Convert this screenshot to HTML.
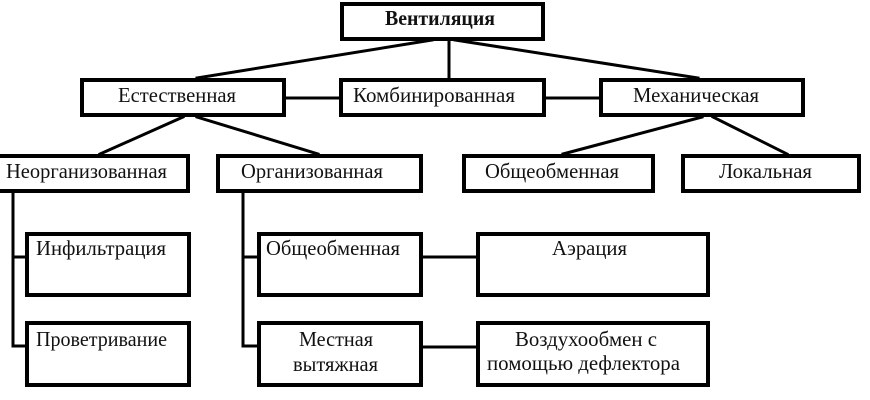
<!DOCTYPE html>
<html>
<head>
<meta charset="utf-8">
<style>
  html,body{margin:0;padding:0;background:#fff;}
  svg{display:block;}
  text{font-family:"Liberation Serif","DejaVu Serif",serif;font-size:21px;fill:#111;}
</style>
</head>
<body>
<svg width="870" height="400" viewBox="0 0 870 400" xmlns="http://www.w3.org/2000/svg">
  <g stroke="#000" stroke-width="3" fill="none" stroke-linecap="square">
    <line x1="432" y1="40" x2="197" y2="78"/>
    <line x1="449" y1="40" x2="449" y2="78"/>
    <line x1="455" y1="40" x2="698" y2="78"/>
    <line x1="286" y1="98" x2="339" y2="98"/>
    <line x1="546" y1="98" x2="599" y2="98"/>
    <line x1="183" y1="117" x2="100" y2="154"/>
    <line x1="197" y1="117" x2="318" y2="154"/>
    <line x1="702" y1="117" x2="563" y2="154"/>
    <line x1="713" y1="117" x2="787" y2="154"/>
    <line x1="13" y1="193" x2="13" y2="346"/>
    <line x1="13" y1="257" x2="25" y2="257"/>
    <line x1="13" y1="346" x2="25" y2="346"/>
    <line x1="243" y1="193" x2="243" y2="346"/>
    <line x1="243" y1="257" x2="257" y2="257"/>
    <line x1="243" y1="346" x2="257" y2="346"/>
    <line x1="423" y1="257" x2="476" y2="257"/>
    <line x1="423" y1="347" x2="476" y2="347"/>
  </g>
  <g stroke="#000" stroke-width="4" fill="#fff">
    <rect x="342" y="4" width="201" height="35"/>
    <rect x="82" y="80" width="202" height="35"/>
    <rect x="341" y="80" width="203" height="35"/>
    <rect x="601" y="80" width="202" height="35"/>
    <rect x="-2" y="156" width="190" height="35"/>
    <rect x="218" y="156" width="203" height="35"/>
    <rect x="464" y="156" width="189" height="35"/>
    <rect x="683" y="156" width="176" height="35"/>
    <rect x="27" y="234" width="162" height="61"/>
    <rect x="27" y="323" width="162" height="62"/>
    <rect x="259" y="234" width="162" height="61"/>
    <rect x="259" y="323" width="162" height="62"/>
    <rect x="478" y="234" width="230" height="61"/>
    <rect x="478" y="323" width="230" height="62"/>
  </g>
  <g>
    <text x="385" y="25" font-weight="bold" textLength="110" lengthAdjust="spacingAndGlyphs">Вентиляция</text>
    <text x="118" y="102" textLength="118" lengthAdjust="spacingAndGlyphs">Естественная</text>
    <text x="353" y="102" textLength="162" lengthAdjust="spacingAndGlyphs">Комбинированная</text>
    <text x="633" y="102" textLength="126" lengthAdjust="spacingAndGlyphs">Механическая</text>
    <text x="6" y="178" textLength="161" lengthAdjust="spacingAndGlyphs">Неорганизованная</text>
    <text x="241" y="178" textLength="142" lengthAdjust="spacingAndGlyphs">Организованная</text>
    <text x="485" y="178" textLength="134" lengthAdjust="spacingAndGlyphs">Общеобменная</text>
    <text x="719" y="178" textLength="93" lengthAdjust="spacingAndGlyphs">Локальная</text>
    <text x="36" y="255" textLength="130" lengthAdjust="spacingAndGlyphs">Инфильтрация</text>
    <text x="36" y="346" textLength="131" lengthAdjust="spacingAndGlyphs">Проветривание</text>
    <text x="266" y="255" textLength="134" lengthAdjust="spacingAndGlyphs">Общеобменная</text>
    <text x="299" y="346" textLength="74" lengthAdjust="spacingAndGlyphs">Местная</text>
    <text x="293" y="371" textLength="85" lengthAdjust="spacingAndGlyphs">вытяжная</text>
    <text x="552" y="255" textLength="75" lengthAdjust="spacingAndGlyphs">Аэрация</text>
    <text x="515" y="346" textLength="142" lengthAdjust="spacingAndGlyphs">Воздухообмен с</text>
    <text x="487" y="370" textLength="193" lengthAdjust="spacingAndGlyphs">помощью дефлектора</text>
  </g>
</svg>
</body>
</html>
